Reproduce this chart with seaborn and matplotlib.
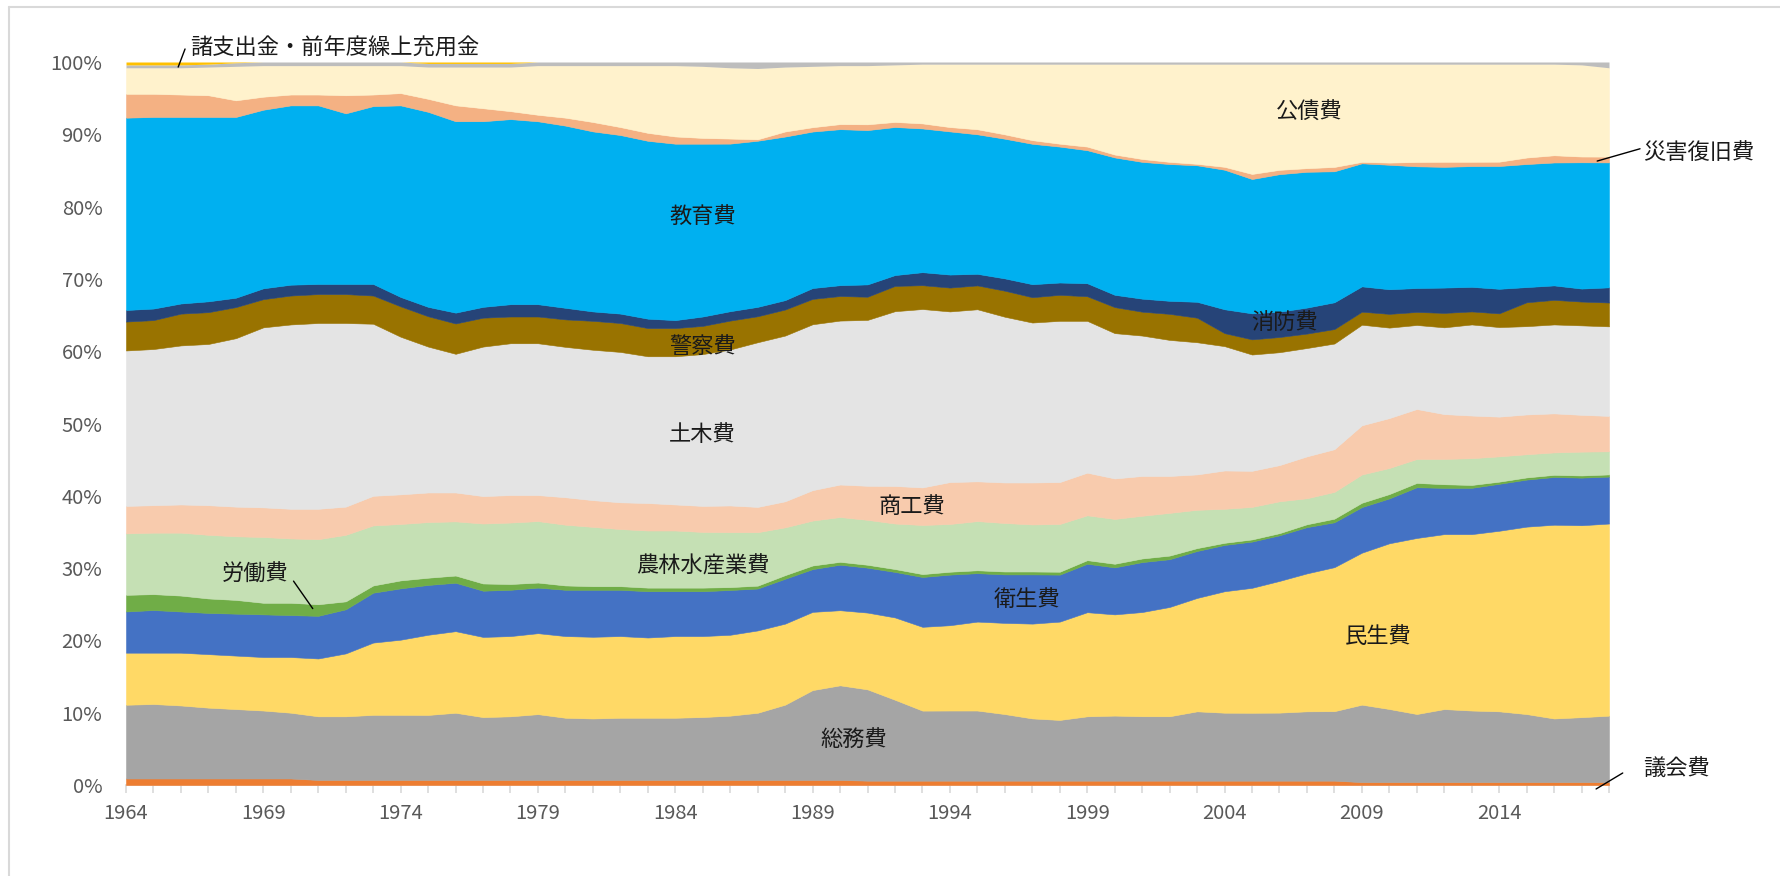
import numpy as np
import pandas as pd
import matplotlib
matplotlib.use("Agg")
import matplotlib.pyplot as plt
from matplotlib.lines import Line2D
import seaborn as sns

# 歳出の目的別構成比 (%), 1964-2018
years = list(range(1964, 2019))

gikai = [0.9, 0.9, 0.9, 0.9, 0.9, 0.9, 0.9, 0.7, 0.7, 0.7, 0.7, 0.7, 0.7, 0.7, 0.7, 0.7, 0.7, 0.7, 0.7, 0.7,
         0.7, 0.7, 0.7, 0.7, 0.7, 0.7, 0.7, 0.6, 0.6, 0.6, 0.6, 0.6, 0.6, 0.6, 0.6, 0.6, 0.6, 0.6, 0.6, 0.6,
         0.6, 0.6, 0.6, 0.6, 0.6, 0.4, 0.4, 0.4, 0.4, 0.4, 0.4, 0.4, 0.4, 0.4, 0.4]
somu = [10.2, 10.3, 10.1, 9.8, 9.6, 9.4, 9.1, 8.8, 8.8, 9.0, 9.0, 9.0, 9.3, 8.7, 8.8, 9.1, 8.6, 8.5, 8.6, 8.6,
        8.6, 8.7, 8.9, 9.3, 10.4, 12.4, 13.1, 12.6, 11.2, 9.7, 9.7, 9.7, 9.2, 8.6, 8.4, 8.9, 9.0, 8.9, 8.9, 9.6,
        9.4, 9.4, 9.4, 9.6, 9.6, 10.7, 10.1, 9.4, 10.1, 9.9, 9.8, 9.4, 8.8, 9.0, 9.2]
minsei = [7.2, 7.1, 7.3, 7.4, 7.4, 7.4, 7.7, 8.0, 8.7, 10.0, 10.4, 11.1, 11.3, 11.1, 11.1, 11.2, 11.3, 11.3, 11.3, 11.1,
          11.3, 11.2, 11.2, 11.4, 11.2, 10.8, 10.4, 10.6, 11.4, 11.6, 11.8, 12.3, 12.6, 13.1, 13.6, 14.4, 14.0, 14.4, 15.1, 15.7,
          16.8, 17.3, 18.2, 19.1, 19.9, 21.0, 22.9, 24.3, 24.2, 24.4, 25.0, 25.9, 26.8, 26.6, 26.6]
eisei = [5.7, 5.9, 5.7, 5.7, 5.8, 5.9, 5.8, 5.9, 6.1, 6.9, 7.1, 6.9, 6.7, 6.4, 6.4, 6.3, 6.4, 6.5, 6.4, 6.4,
         6.2, 6.2, 6.2, 5.8, 6.2, 5.9, 6.3, 6.2, 6.3, 6.9, 7.0, 6.7, 6.7, 6.8, 6.5, 6.7, 6.5, 6.9, 6.6, 6.5,
         6.4, 6.4, 6.3, 6.4, 6.2, 6.3, 6.2, 7.0, 6.4, 6.4, 6.5, 6.5, 6.6, 6.6, 6.5]
rodo = [2.3, 2.2, 2.2, 2.0, 1.9, 1.6, 1.7, 1.6, 1.1, 1.0, 1.1, 1.0, 1.0, 1.0, 0.8, 0.7, 0.6, 0.5, 0.5, 0.5,
        0.5, 0.5, 0.4, 0.4, 0.5, 0.5, 0.4, 0.4, 0.4, 0.4, 0.4, 0.4, 0.4, 0.4, 0.4, 0.5, 0.5, 0.5, 0.5, 0.4,
        0.3, 0.3, 0.3, 0.4, 0.5, 0.6, 0.6, 0.6, 0.5, 0.4, 0.3, 0.3, 0.3, 0.3, 0.3]
norin = [8.5, 8.5, 8.7, 8.8, 8.8, 9.1, 8.9, 9.0, 9.2, 8.3, 7.8, 7.7, 7.5, 8.3, 8.5, 8.5, 8.4, 8.2, 7.9, 7.9,
         7.9, 7.7, 7.6, 7.4, 6.6, 6.2, 6.2, 6.2, 6.3, 6.8, 6.6, 6.8, 6.7, 6.5, 6.6, 6.2, 6.2, 5.9, 5.9, 5.3,
         4.7, 4.5, 4.4, 3.6, 3.7, 3.9, 3.6, 3.3, 3.5, 3.7, 3.5, 3.2, 3.1, 3.3, 3.2]
shoko = [3.8, 3.8, 3.9, 4.1, 4.1, 4.1, 4.1, 4.2, 3.9, 4.1, 4.1, 4.1, 4.0, 3.8, 3.8, 3.6, 3.8, 3.7, 3.7, 3.8,
         3.6, 3.6, 3.7, 3.5, 3.6, 4.2, 4.5, 4.7, 5.2, 5.2, 5.8, 5.5, 5.6, 5.8, 5.8, 5.9, 5.6, 5.5, 5.1, 4.9,
         5.3, 5.0, 5.0, 5.8, 5.9, 6.8, 6.9, 6.9, 6.2, 5.9, 5.5, 5.5, 5.4, 5.1, 4.9]
doboku = [21.5, 21.6, 22.0, 22.3, 23.3, 24.9, 25.5, 25.7, 25.4, 23.8, 21.8, 20.2, 19.2, 20.7, 21.0, 21.0, 20.8, 20.8, 20.8, 20.3,
          20.5, 21.0, 21.6, 22.8, 22.9, 22.9, 22.7, 22.9, 24.2, 24.7, 23.6, 23.8, 22.9, 22.1, 22.3, 21.0, 20.1, 19.4, 18.8, 18.3,
          17.2, 16.1, 15.6, 15.0, 14.6, 13.9, 12.5, 11.6, 12.0, 12.6, 12.4, 12.2, 12.3, 12.4, 12.4]
keisatsu = [4.0, 4.0, 4.4, 4.4, 4.3, 3.9, 4.0, 4.0, 4.0, 3.9, 4.2, 4.2, 4.2, 4.0, 3.7, 3.7, 3.8, 4.0, 4.0, 3.9,
            3.9, 3.9, 4.0, 3.6, 3.6, 3.5, 3.4, 3.2, 3.5, 3.3, 3.3, 3.3, 3.6, 3.5, 3.6, 3.4, 3.6, 3.3, 3.6, 3.4,
            1.8, 2.1, 2.1, 2.0, 2.0, 1.8, 1.9, 1.8, 2.0, 1.8, 1.9, 3.3, 3.4, 3.3, 3.3]
shobo = [1.6, 1.6, 1.4, 1.5, 1.3, 1.5, 1.5, 1.4, 1.4, 1.6, 1.3, 1.3, 1.5, 1.5, 1.7, 1.7, 1.6, 1.3, 1.3, 1.3,
         1.1, 1.3, 1.3, 1.3, 1.3, 1.5, 1.5, 1.7, 1.5, 1.8, 1.8, 1.6, 1.7, 1.8, 1.7, 1.8, 1.7, 1.8, 1.8, 2.2,
         3.3, 3.6, 3.5, 3.6, 3.7, 3.5, 3.4, 3.3, 3.5, 3.4, 3.4, 2.1, 2.0, 1.8, 2.1]
kyoiku = [26.6, 26.5, 25.8, 25.5, 25.0, 24.7, 24.8, 24.7, 23.6, 24.6, 26.5, 27.0, 26.5, 25.7, 25.6, 25.3, 25.2, 24.9, 24.7, 24.6,
          24.4, 23.9, 23.2, 23.0, 22.6, 21.6, 21.6, 21.3, 20.5, 19.9, 19.8, 19.3, 19.3, 19.4, 18.8, 18.4, 19.0, 18.9, 18.9, 18.9,
          19.3, 18.6, 19.0, 18.8, 18.1, 17.0, 17.2, 16.8, 16.7, 16.7, 17.0, 17.0, 17.0, 17.5, 17.3]
saigai = [3.3, 3.2, 3.1, 3.0, 2.3, 1.8, 1.5, 1.5, 2.5, 1.6, 1.7, 1.8, 2.2, 1.8, 1.1, 0.9, 1.1, 1.3, 1.1, 1.1,
          1.0, 0.8, 0.7, 0.2, 0.7, 0.6, 0.7, 0.8, 0.7, 0.7, 0.6, 0.7, 0.6, 0.5, 0.4, 0.5, 0.4, 0.4, 0.3, 0.2,
          0.4, 0.7, 0.6, 0.5, 0.6, 0.2, 0.3, 0.6, 0.7, 0.6, 0.6, 0.9, 1.0, 0.8, 0.8]
kosai = [3.6, 3.6, 3.7, 3.9, 4.7, 4.3, 4.0, 4.0, 4.1, 4.0, 3.8, 4.4, 5.3, 5.7, 6.1, 6.8, 7.2, 7.8, 8.5, 9.3,
         9.8, 9.9, 9.8, 9.8, 8.9, 8.4, 8.1, 8.1, 7.9, 8.2, 8.7, 9.0, 9.7, 10.5, 11.0, 11.4, 12.5, 13.1, 13.5, 13.8,
         14.2, 15.2, 14.6, 14.4, 14.2, 13.5, 13.6, 13.5, 13.5, 13.5, 13.5, 12.9, 12.6, 12.7, 12.3]
shishutsu = [0.4, 0.4, 0.4, 0.4, 0.5, 0.5, 0.5, 0.5, 0.5, 0.5, 0.5, 0.5, 0.5, 0.5, 0.5, 0.5, 0.5, 0.5, 0.5, 0.5,
             0.5, 0.6, 0.8, 0.9, 0.7, 0.6, 0.5, 0.5, 0.4, 0.3, 0.3, 0.3, 0.3, 0.3, 0.3, 0.3, 0.3, 0.3, 0.3, 0.3,
             0.3, 0.3, 0.3, 0.3, 0.3, 0.3, 0.3, 0.3, 0.3, 0.3, 0.3, 0.3, 0.3, 0.4, 0.8]
kuriage = [0.4, 0.4, 0.4, 0.3, 0.1, 0.0, 0.0, 0.0, 0.0, 0.0, 0.0, 0.2, 0.2, 0.2, 0.2, 0.0, 0.0, 0.0, 0.0, 0.0,
           0.0, 0.0, 0.0, 0.0, 0.0, 0.0, 0.0, 0.0, 0.0, 0.0, 0.0, 0.0, 0.0, 0.0, 0.0, 0.0, 0.0, 0.0, 0.0, 0.0,
           0.0, 0.0, 0.0, 0.0, 0.0, 0.0, 0.0, 0.0, 0.0, 0.0, 0.0, 0.0, 0.0, 0.0, 0.0]

categories = ["議会費", "総務費", "民生費", "衛生費", "労働費", "農林水産業費", "商工費", "土木費",
              "警察費", "消防費", "教育費", "災害復旧費", "公債費", "諸支出金", "前年度繰上充用金"]
colors = ["#ED7D31", "#A5A5A5", "#FFD966", "#4472C4", "#70AD47", "#C5E0B4", "#F8CBAD", "#E4E4E4",
          "#997300", "#264478", "#00B0F0", "#F4B183", "#FFF2CC", "#BDBDBD", "#FFC000"]

df = pd.DataFrame({
    "議会費": gikai, "総務費": somu, "民生費": minsei, "衛生費": eisei, "労働費": rodo,
    "農林水産業費": norin, "商工費": shoko, "土木費": doboku, "警察費": keisatsu, "消防費": shobo,
    "教育費": kyoiku, "災害復旧費": saigai, "公債費": kosai, "諸支出金": shishutsu,
    "前年度繰上充用金": kuriage,
}, index=years)

# 100% stacked: normalise each year
share = df[categories].div(df[categories].sum(axis=1), axis=0) * 100

sns.set_theme(style="white")
plt.rcParams["font.family"] = ["Noto Sans CJK JP", "DejaVu Sans"]

W, H = 1781, 876
fig = plt.figure(figsize=(W / 100, H / 100), dpi=100)
ax = fig.add_axes([126 / W, 1 - 785 / H, (1609 - 126) / W, (785 - 62) / H])

polys = ax.stackplot(share.index, [share[c].values for c in categories], colors=sns.color_palette(colors))
for name, p in zip(categories, polys):
    if name in ("諸支出金", "前年度繰上充用金"):
        # thin top bands: no outline, otherwise a zero-height band shows as a line
        p.set_linewidth(0)
    else:
        p.set_edgecolor(p.get_facecolor())
        p.set_linewidth(0.4)

ax.set_xlim(1964, 2018)
ax.set_ylim(0, 100)

# axes styling (Excel-like)
for s in ["top", "right", "left"]:
    ax.spines[s].set_visible(False)
ax.spines["bottom"].set_color("#D9D9D9")
ax.spines["bottom"].set_linewidth(1.2)
ax.spines["bottom"].set_zorder(0)

ax.set_xticks(years)
ax.set_xticklabels([str(y) if (y - 1964) % 5 == 0 else "" for y in years])
ax.tick_params(axis="x", length=6, width=1.2, color="#D9D9D9", labelsize=14.5,
               labelcolor="#595959", pad=7, bottom=True)
ax.set_yticks(range(0, 101, 10))
ax.set_yticklabels([f"{v}%" for v in range(0, 101, 10)])
ax.tick_params(axis="y", length=0, labelsize=14.5, labelcolor="#595959", pad=17)
ax.grid(False)

# series labels inside the areas
txt = dict(fontsize=16, color="#1a1a1a", ha="center", va="center")
ax.text(2007.1, 93.0, "公債費", **txt)
ax.text(1985.0, 78.6, "教育費", **txt)
ax.text(1985.0, 60.7, "警察費", **txt)
ax.text(1985.0, 48.5, "土木費", **txt)
ax.text(1985.0, 30.3, "農林水産業費", **txt)
ax.text(1990.5, 6.2, "総務費", **txt)
ax.text(1992.6, 38.5, "商工費", **txt)
ax.text(1996.8, 25.7, "衛生費", **txt)
ax.text(2006.2, 64.0, "消防費", **txt)
ax.text(2009.6, 20.5, "民生費", **txt)

# labels with leader lines
lead = dict(color="black", lw=1.0, clip_on=False)
ax.text(1968.7, 29.1, "労働費", **txt)
ax.add_line(Line2D([1970.1, 1970.8], [28.2, 24.4], **lead))

ax.add_line(Line2D([2017.57, 2019.13], [86.3, 88.0], **lead))
ax.text(2019.25, 87.5, "災害復旧費", fontsize=16, color="#1a1a1a", ha="left", va="center", clip_on=False)

ax.add_line(Line2D([2017.53, 2018.5], [-0.55, 1.66], **lead))
ax.text(2019.25, 2.1, "議会費", fontsize=16, color="#1a1a1a", ha="left", va="center", clip_on=False)

ax.add_line(Line2D([1965.9, 1966.15], [99.3, 101.8], **lead))
ax.text(1966.33, 101.9, "諸支出金・前年度繰上充用金", fontsize=16, color="#1a1a1a",
        ha="left", va="center", clip_on=False)

# chart area border
fig.add_artist(Line2D([9 / W, 1.0], [1 - 7 / H, 1 - 7 / H], color="#D9D9D9", lw=1.5))
fig.add_artist(Line2D([9 / W, 9 / W], [0.0, 1 - 7 / H], color="#D9D9D9", lw=1.5))

fig.savefig("out.png", dpi=100)
plt.close(fig)
